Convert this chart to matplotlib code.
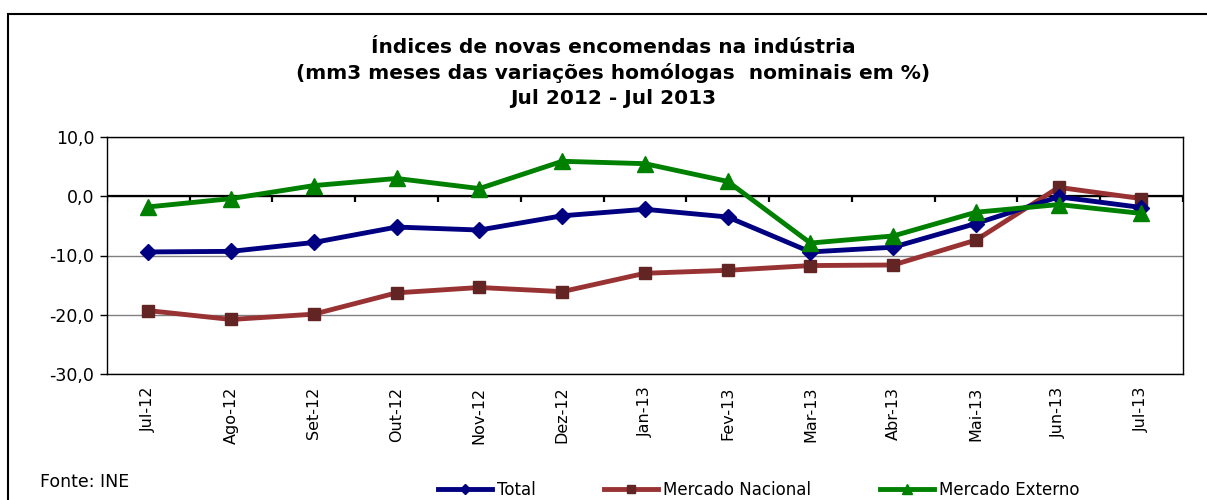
import matplotlib
matplotlib.use('Agg')
import matplotlib.pyplot as plt
import matplotlib.patches as mpatches
import numpy as np

months = ['Jul-12', 'Ago-12', 'Set-12', 'Out-12', 'Nov-12', 'Dez-12', 'Jan-13',
          'Fev-13', 'Mar-13', 'Abr-13', 'Mai-13', 'Jun-13', 'Jul-13']
total = [-9.4, -9.3, -7.8, -5.2, -5.7, -3.3, -2.2, -3.5, -9.4, -8.6, -4.6, -0.1, -1.9]
nacional = [-19.3, -20.8, -19.9, -16.3, -15.4, -16.1, -13.0, -12.5, -11.7, -11.6, -7.4, 1.5, -0.4]
externo = [-1.8, -0.4, 1.8, 3.0, 1.3, 5.9, 5.5, 2.5, -7.9, -6.7, -2.7, -1.4, -2.9]
y_ticks = [10, 0, -10, -20, -30]

plt.rcParams['font.family'] = 'DejaVu Sans'

fig = plt.figure(figsize=(12.07, 5.0), dpi=100)
ax = fig.add_axes([0.0886, 0.252, 0.8914, 0.474])

x = np.arange(len(months))
ax.plot(x, total, color='#000080', lw=3.5, marker='D', markersize=8,
        markerfacecolor='#000080', markeredgecolor='#000080', label='Total', zorder=4)
ax.plot(x, nacional, color='#993333', lw=3.5, marker='s', markersize=9,
        markerfacecolor='#632523', markeredgecolor='#632523', label='Mercado Nacional', zorder=3)
ax.plot(x, externo, color='#008000', lw=3.5, marker='^', markersize=11,
        markerfacecolor='#008000', markeredgecolor='#008000', label='Mercado Externo', zorder=5)

ax.set_xlim(-0.5, len(months) - 0.5)
ax.set_ylim(-30, 10)
ax.set_yticks(y_ticks)
ax.set_yticklabels([f'{v:.1f}'.replace('.', ',') for v in y_ticks], fontsize=12.5)
ax.set_xticks(x)
ax.set_xticklabels(months, rotation=90, fontsize=11.5)
ax.tick_params(axis='x', length=0, pad=9)
ax.tick_params(axis='y', length=5, width=1, direction='out', color='black', pad=4)
ax.yaxis.grid(True, color='#808080', lw=1)
ax.set_axisbelow(True)
for s in ax.spines.values():
    s.set_color('black')
    s.set_linewidth(1)

# category axis crossing at zero, with tick marks between categories
ax.axhline(0, color='black', lw=1.6, zorder=2)
bounds = np.arange(len(months) + 1) - 0.5
ax.vlines(bounds, -0.9, 0, color='black', lw=1.6, zorder=2)

fig.text(0.508, 0.854, 'Índices de novas encomendas na indústria\n'
         '(mm3 meses das variações homólogas  nominais em %)\nJul 2012 - Jul 2013',
         ha='center', va='center', fontsize=14.5, fontweight='bold', linespacing=1.38)

fig.text(0.033, 0.036, 'Fonte: INE', fontsize=12.5, va='center')

fig.legend(loc='center left', bbox_to_anchor=(438 / 1207, 0.02), ncol=3, frameon=False,
           fontsize=12, handlelength=3.25, columnspacing=4.1, handletextpad=0.3,
           borderpad=0, borderaxespad=0, markerscale=0.6)

# outer chart border
fig.patches.append(mpatches.Rectangle((8 / 1207, -0.1), 1.1, 1 - 14 / 500 + 0.1,
                                      transform=fig.transFigure, fill=False,
                                      edgecolor='black', lw=1.5, figure=fig))

fig.savefig('out.png', dpi=100)
